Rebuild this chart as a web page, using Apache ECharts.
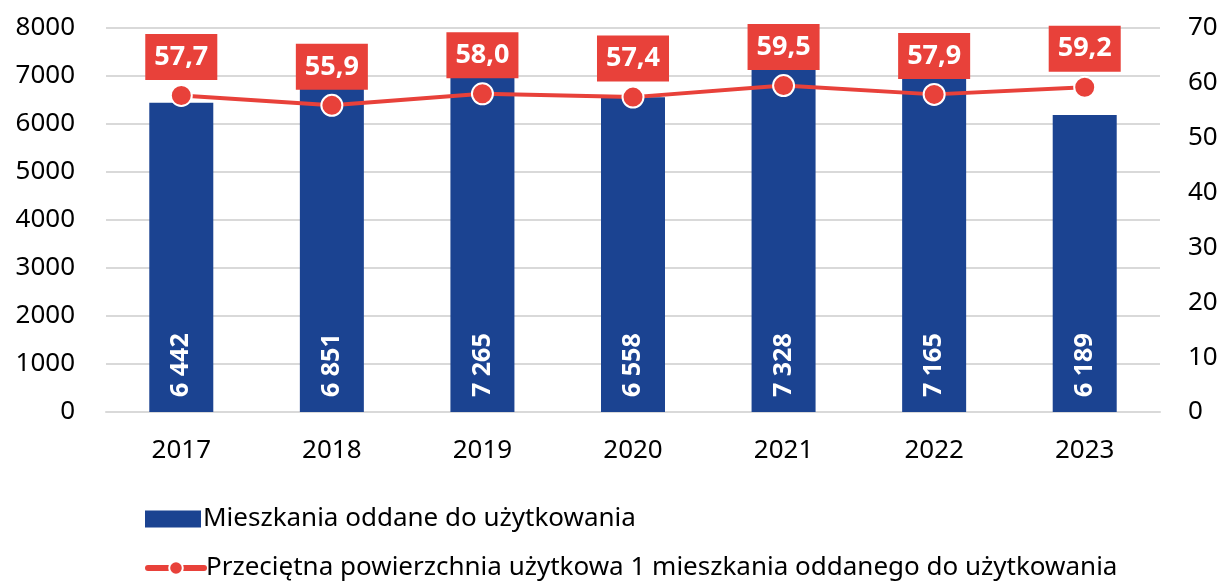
<!DOCTYPE html>
<html>
<head>
<meta charset="utf-8">
<script src="https://cdn.jsdelivr.net/npm/echarts@6/dist/echarts.min.js"></script>
<style>
  html, body { margin: 0; padding: 0; background: #fff; }
  #chart { width: 1222px; height: 581px; }
</style>
</head>
<body>
<div id="chart"></div>
<script>
const years = ["2017", "2018", "2019", "2020", "2021", "2022", "2023"]
const flats = [6442, 6851, 7265, 6558, 7328, 7165, 6189]
const avgArea = [57.7, 55.9, 58.0, 57.4, 59.5, 57.9, 59.2]

const barName = "Mieszkania oddane do użytkowania"
const lineName = "Przeciętna powierzchnia użytkowa 1 mieszkania oddanego do użytkowania"

const blue = "#1b4391"
const red = "#e8413a"
const font = "Noto Sans"

const legendBase = {
  left: 140,
  itemWidth: 56,
  itemHeight: 17,
  textStyle: { fontSize: 26, color: "#000", fontFamily: font, padding: [0, 0, 0, -3] }
}

let myChart = echarts.init(document.getElementById("chart"))
myChart.setOption({
  animation: false,
  textStyle: { fontFamily: font },
  grid: { left: 106, right: 62, top: 28, bottom: 169 },
  legend: [
    Object.assign({ top: 501, data: [{ name: barName, icon: "rect" }] }, legendBase),
    Object.assign({ top: 550, data: [{ name: lineName, lineStyle: { width: 6, cap: "round" } }] }, legendBase)
  ],
  xAxis: {
    type: "category",
    data: years,
    axisLine: { lineStyle: { color: "#d9d9d9", width: 2 } },
    axisTick: { show: false },
    axisLabel: { fontSize: 26, color: "#000", margin: 26 }
  },
  yAxis: [
    {
      type: "value",
      min: 0, max: 8000, interval: 1000,
      axisLabel: { fontSize: 26, color: "#000", margin: 31, formatter: v => String(v) },
      splitLine: { lineStyle: { color: "#d9d9d9", width: 2 } }
    },
    {
      type: "value",
      min: 0, max: 70, interval: 10,
      axisLabel: { fontSize: 26, color: "#000", margin: 28 },
      splitLine: { show: false }
    }
  ],
  series: [
    {
      name: barName,
      type: "bar",
      data: flats,
      barWidth: 64,
      itemStyle: { color: blue },
      label: {
        show: true,
        position: "insideBottom",
        rotate: 90,
        align: "left",
        verticalAlign: "middle",
        distance: 15,
        color: "#fff",
        fontWeight: "bold",
        fontSize: 25,
        formatter: p => String(p.value).replace(/\B(?=(\d{3})+(?!\d))/g, " ")
      }
    },
    {
      name: lineName,
      type: "line",
      yAxisIndex: 1,
      data: avgArea,
      symbol: "circle",
      symbolSize: 21,
      itemStyle: { color: red, borderColor: "#fff", borderWidth: 2 },
      lineStyle: { color: red, width: 4 },
      label: {
        show: true,
        position: "top",
        distance: 4,
        color: "#fff",
        backgroundColor: red,
        fontWeight: "bold",
        fontSize: 27,
        lineHeight: 30,
        padding: [8, 9, 8, 9],
        formatter: p => p.value.toFixed(1).replace(".", ",")
      },
      z: 5
    }
  ]
})
</script>
</body>
</html>
